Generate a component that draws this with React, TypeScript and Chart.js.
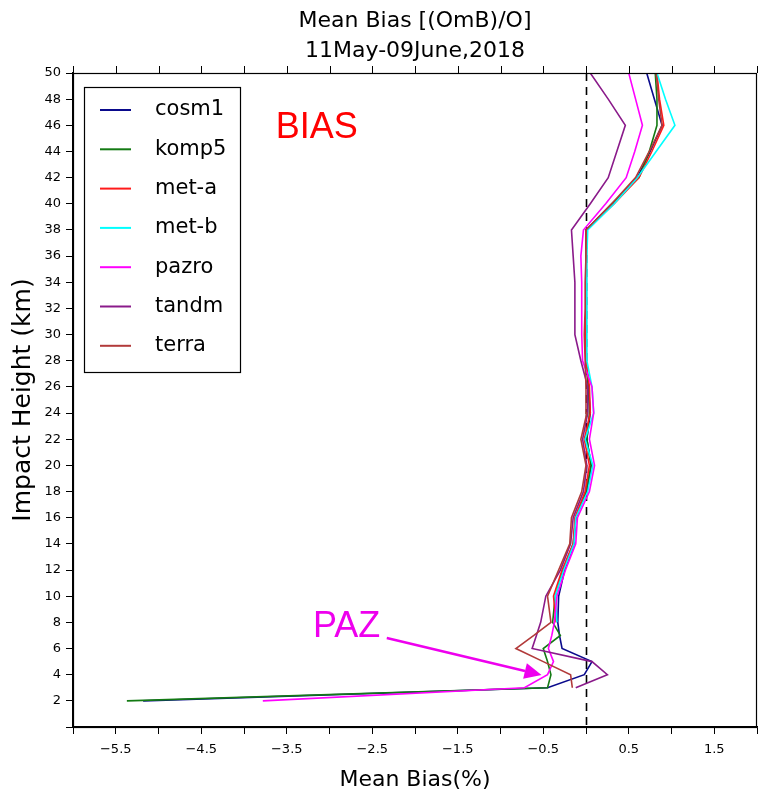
import React, { useEffect, useRef } from "react";
import { Chart, registerables } from "chart.js";

Chart.register(...registerables);

const heights = [2, 3, 4, 5, 6, 7, 8, 10, 12, 14, 16, 18, 20, 22, 24, 26, 28, 30, 32, 34, 36, 38, 40, 42, 44, 46, 48, 50];

const seriesNames = ["cosm1", "komp5", "met-a", "met-b", "pazro", "tandm", "terra"];
const seriesColors = ["#0a0a8c", "#137a13", "#ff1a1a", "#00ffff", "#ff00ff", "#8a1a8a", "#b23a3a"];

const cosm1 = [-5.18, -0.45, -0.02, 0.07, -0.28, -0.31, -0.33, -0.32, -0.25, -0.14, -0.12, 0.01, 0.06, 0.01, 0.05, 0.03, 0.0, 0.0, 0.0, 0.0, 0.01, 0.01, 0.32, 0.6, 0.75, 0.89, 0.8, 0.71];
const komp5 = [-5.37, -0.45, -0.41, -0.45, -0.5, -0.3, -0.39, -0.36, -0.27, -0.15, -0.12, 0.0, 0.06, 0.01, 0.04, 0.03, 0.0, -0.01, 0.0, 0.0, 0.0, 0.0, 0.3, 0.62, 0.74, 0.83, 0.83, 0.81];
const metA = [null, null, null, null, null, null, -0.35, -0.38, -0.28, -0.15, -0.13, -0.01, 0.04, -0.02, 0.05, 0.04, 0.0, -0.01, 0.0, 0.0, 0.0, 0.01, 0.33, 0.62, 0.77, 0.91, 0.86, 0.83];
const metB = [null, null, null, null, null, null, -0.34, -0.36, -0.26, -0.14, -0.12, 0.02, 0.08, -0.01, 0.09, 0.07, 0.01, 0.01, 0.01, 0.01, 0.01, 0.02, 0.33, 0.6, 0.82, 1.04, 0.93, 0.83];
const pazro = [-3.78, -0.72, -0.45, -0.38, -0.44, -0.4, -0.37, -0.34, -0.24, -0.12, -0.1, 0.04, 0.1, 0.04, 0.09, 0.07, -0.04, -0.05, -0.05, -0.05, -0.06, -0.03, 0.23, 0.47, 0.57, 0.66, 0.58, 0.5];
const tandm = [null, -0.12, 0.25, 0.07, -0.63, -0.58, -0.53, -0.47, -0.3, -0.18, -0.15, -0.03, 0.01, -0.04, 0.02, 0.02, -0.06, -0.13, -0.13, -0.13, -0.15, -0.17, 0.05, 0.26, 0.36, 0.46, 0.26, 0.05];
const terra = [null, -0.16, -0.18, -0.5, -0.82, -0.61, -0.41, -0.45, -0.32, -0.19, -0.17, -0.05, 0.0, -0.06, 0.01, 0.0, -0.01, -0.02, -0.01, -0.01, 0.0, 0.0, 0.3, 0.58, 0.74, 0.89, 0.85, 0.82];

const seriesValues = [cosm1, komp5, metA, metB, pazro, tandm, terra];

const titleLines = ["Mean Bias [(OmB)/O]", "11May-09June,2018"];
const xTitle = "Mean Bias(%)";
const yTitle = "Impact Height (km)";

// annotations in data coordinates
const biasLabel = { text: "BIAS", x: -3.63, y: 45.8 };
const pazLabel = { text: "PAZ", x: -2.8, y: 7.65 };
const arrowFrom = { x: -2.33, y: 6.8 };
const arrowTo = { x: -0.52, y: 3.98 };

const FONT = "'DejaVu Sans', sans-serif";

export default function App() {
  const ref = useRef<HTMLCanvasElement | null>(null);

  useEffect(() => {
    document.body.style.margin = "0";
    const canvas = ref.current;
    if (!canvas) return;

    const datasets = seriesNames.map((name, i) => ({
      label: name,
      data: heights
        .map((h, j) => ({ x: seriesValues[i][j], y: h }))
        .filter((p) => p.x !== null && p.x !== undefined),
      borderColor: seriesColors[i],
      backgroundColor: seriesColors[i],
      borderWidth: 1.6,
      pointRadius: 0,
      showLine: true,
      fill: false,
      tension: 0,
      order: seriesNames.length - i,
    }));

    const decor = {
      id: "decor",
      beforeDatasetsDraw(chart: any) {
        const ctx = chart.ctx;
        const ca = chart.chartArea;
        const xs = chart.scales.x;
        const x0 = Math.round(xs.getPixelForValue(0)) + 0.5;
        ctx.save();
        ctx.strokeStyle = "#000";
        ctx.lineWidth = 1.6;
        ctx.setLineDash([8, 6]);
        ctx.beginPath();
        ctx.moveTo(x0, ca.top);
        ctx.lineTo(x0, ca.bottom);
        ctx.stroke();
        ctx.restore();
      },
      afterDraw(chart: any) {
        const ctx = chart.ctx;
        const ca = chart.chartArea;
        const xs = chart.scales.x;
        const ys = chart.scales.y;
        ctx.save();
        // frame
        ctx.strokeStyle = "#000";
        ctx.lineWidth = 1.2;
        ctx.strokeRect(ca.left + 0.5, ca.top + 0.5, ca.right - ca.left - 1, ca.bottom - ca.top);
        // top ticks
        ctx.lineWidth = 1;
        for (let v = -6; v <= 2.0001; v += 0.5) {
          const px = Math.round(xs.getPixelForValue(v)) + 0.5;
          ctx.beginPath();
          ctx.moveTo(px, ca.top);
          ctx.lineTo(px, ca.top - 7);
          ctx.stroke();
        }
        // title
        const cx = (ca.left + ca.right) / 2;
        ctx.fillStyle = "#000";
        ctx.textAlign = "center";
        ctx.textBaseline = "middle";
        ctx.font = `22px ${FONT}`;
        ctx.fillText(titleLines[0], cx, 21);
        ctx.fillText(titleLines[1], cx, 51);
        // x title
        ctx.font = `22px ${FONT}`;
        ctx.fillText(xTitle, cx, 780);
        // y title
        ctx.save();
        ctx.translate(23, (ca.top + ca.bottom) / 2);
        ctx.rotate(-Math.PI / 2);
        ctx.font = `25px ${FONT}`;
        ctx.fillText(yTitle, 0, 0);
        ctx.restore();

        // legend
        const lx = 84, ly = 87, lw = 156, lh = 285;
        ctx.fillStyle = "#fff";
        ctx.fillRect(lx, ly, lw, lh);
        ctx.strokeStyle = "#000";
        ctx.lineWidth = 1.2;
        ctx.strokeRect(lx + 0.5, ly + 0.5, lw, lh);
        ctx.textAlign = "left";
        ctx.font = `21px ${FONT}`;
        seriesNames.forEach((name, i) => {
          const y = 110 + i * 39.3;
          ctx.strokeStyle = seriesColors[i];
          ctx.lineWidth = 2;
          ctx.beginPath();
          ctx.moveTo(100, y);
          ctx.lineTo(131, y);
          ctx.stroke();
          ctx.fillStyle = "#000";
          ctx.fillText(name, 155, y);
        });

        // BIAS
        ctx.font = `36px 'Liberation Sans', Arial, sans-serif`;
        ctx.fillStyle = "#ff0000";
        ctx.textAlign = "left";
        ctx.fillText(biasLabel.text, xs.getPixelForValue(biasLabel.x), ys.getPixelForValue(biasLabel.y));
        // PAZ
        ctx.fillStyle = "#ee00ee";
        ctx.textAlign = "center";
        ctx.fillText(pazLabel.text, xs.getPixelForValue(pazLabel.x), ys.getPixelForValue(pazLabel.y));
        // arrow
        const ax = xs.getPixelForValue(arrowFrom.x), ay = ys.getPixelForValue(arrowFrom.y);
        const bx = xs.getPixelForValue(arrowTo.x), by = ys.getPixelForValue(arrowTo.y);
        const ang = Math.atan2(by - ay, bx - ax);
        const headLen = 17, headW = 8;
        const hx = bx - headLen * Math.cos(ang), hy = by - headLen * Math.sin(ang);
        ctx.strokeStyle = "#ee00ee";
        ctx.lineWidth = 2.5;
        ctx.beginPath();
        ctx.moveTo(ax, ay);
        ctx.lineTo(hx, hy);
        ctx.stroke();
        ctx.beginPath();
        ctx.moveTo(bx, by);
        ctx.lineTo(hx + headW * Math.sin(ang), hy - headW * Math.cos(ang));
        ctx.lineTo(hx - headW * Math.sin(ang), hy + headW * Math.cos(ang));
        ctx.closePath();
        ctx.fill();
        ctx.restore();
      },
    };

    Chart.defaults.font.family = FONT;
    Chart.defaults.color = "#000";

    const chart = new Chart(canvas, {
      type: "scatter",
      data: { datasets: datasets as any },
      options: {
        responsive: false,
        animation: false,
        layout: { padding: { top: 73, right: 2, left: 0, bottom: 0 } },
        plugins: { legend: { display: false }, tooltip: { enabled: false }, title: { display: false } },
        scales: {
          x: {
            type: "linear",
            position: "bottom",
            min: -6,
            max: 2,
            ticks: {
              stepSize: 0.5,
              autoSkip: false,
              maxRotation: 0,
              padding: 8,
              font: { size: 13, family: FONT },
              callback: (v: any) => {
                const n = Number(v);
                const r = Math.round((n + 5.5) * 2);
                if (r % 2 !== 0) return "";
                return (n < 0 ? "\u2212" : "") + Math.abs(n).toFixed(1);
              },
            },
            grid: { drawOnChartArea: false, drawTicks: true, tickLength: 7, color: "#000" },
            border: { display: true, color: "#000", width: 1.2 },
            afterFit: (s: any) => {
              s.height = 69;
              s.paddingLeft = 0;
              s.paddingRight = 0;
            },
          },
          y: {
            type: "linear",
            min: 0,
            max: 50,
            ticks: {
              stepSize: 2,
              autoSkip: false,
              padding: 5,
              font: { size: 13, family: FONT },
              callback: (v: any) => (Number(v) === 0 ? "" : String(v)),
            },
            grid: { drawOnChartArea: false, drawTicks: true, tickLength: 7, color: "#000" },
            border: { display: true, color: "#000", width: 1.2 },
            afterFit: (s: any) => {
              s.width = 73;
              s.paddingTop = 0;
              s.paddingBottom = 0;
            },
          },
        },
      },
      plugins: [decor],
    } as any);

    return () => chart.destroy();
  }, []);

  return (
    <div style={{ position: "fixed", left: 0, top: 0, width: 759, height: 796, background: "#fff" }}>
      <canvas ref={ref} width={759} height={796} style={{ display: "block" }} />
    </div>
  );
}
